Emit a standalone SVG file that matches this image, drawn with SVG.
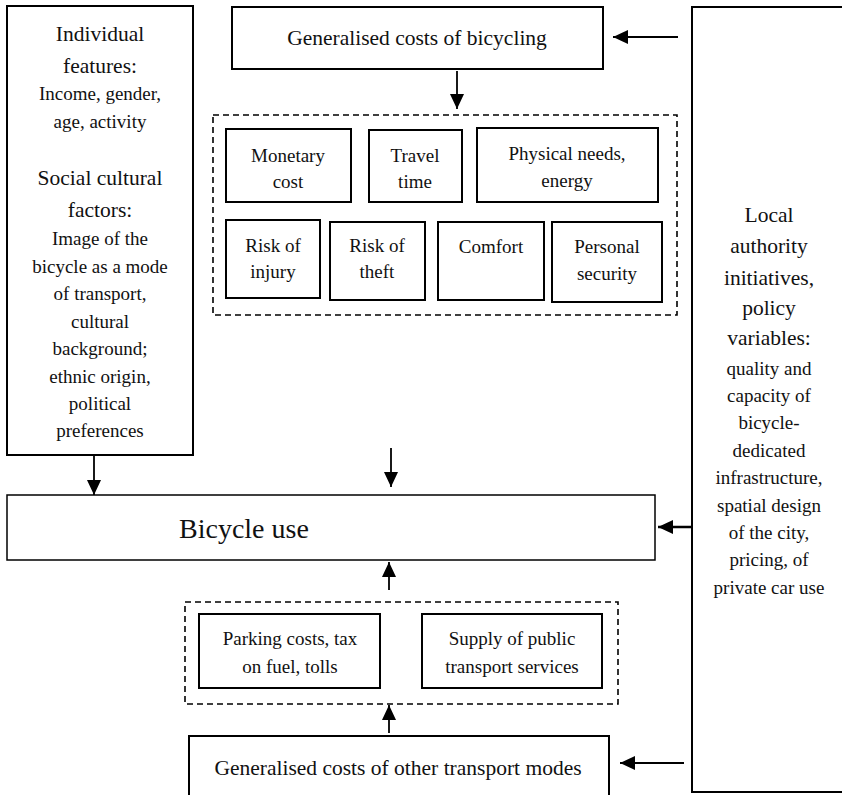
<svg xmlns="http://www.w3.org/2000/svg" width="842" height="795" viewBox="0 0 842 795">
<style>
.box{fill:#fff;stroke:#000;stroke-width:2}
.thin{fill:#fff;stroke:#000;stroke-width:1.5}
.dash{fill:none;stroke:#000;stroke-width:1.6;stroke-dasharray:6,4}
.con{stroke:#000;stroke-width:1.8;fill:none}
text{font-family:"Liberation Serif","Times New Roman",serif;fill:#111;text-anchor:middle}
.big{font-size:21.5px}
.sm{font-size:19px}
.xl{font-size:28px;text-anchor:start}
</style>
<defs>
<marker id="ah" markerUnits="userSpaceOnUse" markerWidth="15" markerHeight="14" refX="15" refY="7" orient="auto" viewBox="0 0 15 14">
<path d="M0,0 L15,7 L0,14 z" fill="#000"/>
</marker>
</defs>
<rect width="842" height="795" fill="#fff"/>

<g id="individual">
<rect class="box" x="7" y="6" width="186" height="449"/>
<text class="big" x="100" y="41">Individual</text>
<text class="big" x="100" y="73">features:</text>
<text class="sm" x="100" y="100">Income, gender,</text>
<text class="sm" x="100" y="128">age, activity</text>
<text class="big" x="100" y="185">Social cultural</text>
<text class="big" x="100" y="217">factors:</text>
<text class="sm" x="100" y="245">Image of the</text>
<text class="sm" x="100" y="273">bicycle as a mode</text>
<text class="sm" x="100" y="300">of transport,</text>
<text class="sm" x="100" y="328">cultural</text>
<text class="sm" x="100" y="355">background;</text>
<text class="sm" x="100" y="383">ethnic origin,</text>
<text class="sm" x="100" y="410">political</text>
<text class="sm" x="100" y="437">preferences</text>
</g>

<g id="gen-bicycling">
<rect class="box" x="232" y="7" width="371" height="62"/>
<text class="big" x="417" y="45">Generalised costs of bicycling</text>
</g>

<g id="local-authority">
<rect class="box" x="692" y="7" width="160" height="785"/>
<text class="big" x="769" y="222">Local</text>
<text class="big" x="769" y="253">authority</text>
<text class="big" x="769" y="285">initiatives,</text>
<text class="big" x="769" y="315">policy</text>
<text class="big" x="769" y="345">variables:</text>
<text class="sm" x="769" y="375">quality and</text>
<text class="sm" x="769" y="402">capacity of</text>
<text class="sm" x="769" y="429">bicycle-</text>
<text class="sm" x="769" y="457">dedicated</text>
<text class="sm" x="769" y="484">infrastructure,</text>
<text class="sm" x="769" y="512">spatial design</text>
<text class="sm" x="769" y="539">of the city,</text>
<text class="sm" x="769" y="566">pricing, of</text>
<text class="sm" x="769" y="594">private car use</text>
</g>

<g id="cost-components">
<rect class="dash" x="213" y="115" width="464" height="200"/>
</g>
<g id="monetary">
<rect class="box" x="226" y="129" width="125" height="73"/>
<text class="sm" x="288" y="162">Monetary</text>
<text class="sm" x="288" y="188">cost</text>
</g>
<g id="travel-time">
<rect class="box" x="369" y="130" width="93" height="72"/>
<text class="sm" x="415" y="162">Travel</text>
<text class="sm" x="415" y="188">time</text>
</g>
<g id="physical">
<rect class="box" x="477" y="128" width="181" height="74"/>
<text class="sm" x="567" y="160">Physical needs,</text>
<text class="sm" x="567" y="187">energy</text>
</g>
<g id="risk-injury">
<rect class="box" x="226" y="220" width="94" height="78"/>
<text class="sm" x="273" y="252">Risk of</text>
<text class="sm" x="273" y="278">injury</text>
</g>
<g id="risk-theft">
<rect class="box" x="330" y="222" width="95" height="78"/>
<text class="sm" x="377" y="252">Risk of</text>
<text class="sm" x="377" y="278">theft</text>
</g>
<g id="comfort">
<rect class="box" x="438" y="222" width="106" height="78"/>
<text class="sm" x="491" y="253">Comfort</text>
</g>
<g id="personal-security">
<rect class="box" x="552" y="222" width="110" height="80"/>
<text class="sm" x="607" y="253">Personal</text>
<text class="sm" x="607" y="280">security</text>
</g>

<g id="bicycle-use">
<rect class="thin" x="7" y="495" width="648" height="65"/>
<text class="xl" x="179" y="538">Bicycle use</text>
</g>

<g id="other-modes-components">
<rect class="dash" x="185" y="602" width="433" height="102"/>
</g>
<g id="parking">
<rect class="box" x="199" y="614" width="181" height="74"/>
<text class="sm" x="290" y="645">Parking costs, tax</text>
<text class="sm" x="290" y="673">on fuel, tolls</text>
</g>
<g id="public-transport">
<rect class="box" x="422" y="614" width="180" height="74"/>
<text class="sm" x="512" y="645">Supply of public</text>
<text class="sm" x="512" y="673">transport services</text>
</g>

<g id="gen-other">
<rect class="box" x="189" y="736" width="420" height="70"/>
<text class="big" x="398" y="775">Generalised costs of other transport modes</text>
</g>

<g id="connectors">
<line class="con" x1="678" y1="37" x2="613" y2="37" marker-end="url(#ah)"/>
<line class="con" x1="457" y1="71" x2="457" y2="109" marker-end="url(#ah)"/>
<line class="con" x1="94" y1="455" x2="94" y2="495" marker-end="url(#ah)"/>
<line class="con" x1="391" y1="448" x2="391" y2="487" marker-end="url(#ah)"/>
<line class="con" x1="692" y1="527" x2="658" y2="527" style="stroke-width:2.4" marker-end="url(#ah)"/>
<line class="con" x1="389" y1="590" x2="389" y2="562" marker-end="url(#ah)"/>
<line class="con" x1="389" y1="733" x2="389" y2="705" marker-end="url(#ah)"/>
<line class="con" x1="684" y1="763" x2="620" y2="763" marker-end="url(#ah)"/>
</g>
</svg>
